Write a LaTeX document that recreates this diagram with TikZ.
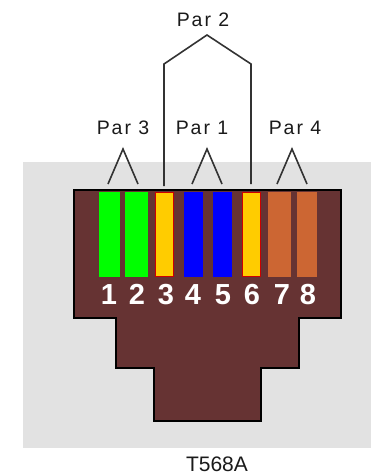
\documentclass[tikz,border=0pt]{standalone}
\usepackage{fontspec}
\setmainfont{Liberation Sans}
\newfontfamily\spaced[LetterSpace=10]{Liberation Sans}
\definecolor{plug}{HTML}{663333}
\definecolor{bggrey}{HTML}{E2E2E2}
\definecolor{lineink}{HTML}{333333}
\definecolor{textink}{HTML}{1A1A1A}
\definecolor{wgreen}{HTML}{00FF00}
\definecolor{wblue}{HTML}{0000FF}
\definecolor{wgold}{HTML}{FFCC00}
\definecolor{wbrown}{HTML}{CC6633}
\definecolor{wred}{HTML}{CC0000}
\tikzset{
  x=1pt,y=-1pt,
  pairline/.style={draw=lineink,line width=1.6pt,line join=miter},
  parlabel/.style={font=\spaced\fontsize{19.5}{20}\selectfont,text=textink,inner sep=0},
  pin/.style={font=\bfseries\fontsize{29}{29}\selectfont,text=white,inner sep=0},
}
\begin{document}
\begin{tikzpicture}
\useasboundingbox (0,0) rectangle (371,475);
\fill[bggrey] (23,162) rectangle (371,448);
\draw[fill=plug,draw=black,line width=1.5pt]
  (74,190) -- (341,190) -- (341,318) -- (299,318) -- (299,368) -- (261,368)
  -- (261,421) -- (154,421) -- (154,368) -- (116,368) -- (116,318) -- (74,318) -- cycle;
% wires
\fill[wgreen] (98.5,192) rectangle (119.5,277);
\fill[wgreen] (125,192) rectangle (148,277);
\fill[wred] (155,192) rectangle (174,277);
\fill[wgold] (156,193) rectangle (173,276);
\fill[wblue] (184,192) rectangle (203,277);
\fill[wblue] (213,192) rectangle (232,277);
\fill[wred] (242,192) rectangle (261,277);
\fill[wgold] (243,193) rectangle (260,276);
\fill[wbrown] (268,192) rectangle (291,277);
\fill[wbrown] (297,192) rectangle (317,277);
% pins
\node[pin] (n1) at (109,294.5) {1};
\node[pin] (n2) at (137,294.5) {2};
\node[pin] (n3) at (166,294.5) {3};
\node[pin] (n4) at (193,294.5) {4};
\node[pin] (n5) at (223,294.5) {5};
\node[pin] (n6) at (252,294.5) {6};
\node[pin] (n7) at (282,294.5) {7};
\node[pin] (n8) at (308,294.5) {8};
% labels
\node[parlabel] (par2) at (203,20) {Par 2};
\node[parlabel] (par3) at (123,128) {Par 3};
\node[parlabel] (par1) at (202,128) {Par 1};
\node[parlabel] (par4) at (295,128) {Par 4};
\node[font=\fontsize{21}{21}\selectfont,text=textink,inner sep=0] (std) at (217,464.5) {T568A};
% pair brackets
\coordinate (p3a) at (108,184); \coordinate (p3t) at (123,149); \coordinate (p3b) at (138,184);
\coordinate (p1a) at (192,184); \coordinate (p1t) at (207,149); \coordinate (p1b) at (222,184);
\coordinate (p4a) at (277,184); \coordinate (p4t) at (292,149); \coordinate (p4b) at (307,184);
\coordinate (p2a) at (164,186); \coordinate (p2c) at (164,64); \coordinate (p2t) at (207,35);
\coordinate (p2d) at (251,64); \coordinate (p2b) at (251,184);
\draw[pairline] (p3a) -- (p3t) -- (p3b);
\draw[pairline] (p1a) -- (p1t) -- (p1b);
\draw[pairline] (p4a) -- (p4t) -- (p4b);
\draw[pairline] (p2a) -- (p2c) -- (p2t) -- (p2d) -- (p2b);
\end{tikzpicture}
\end{document}
